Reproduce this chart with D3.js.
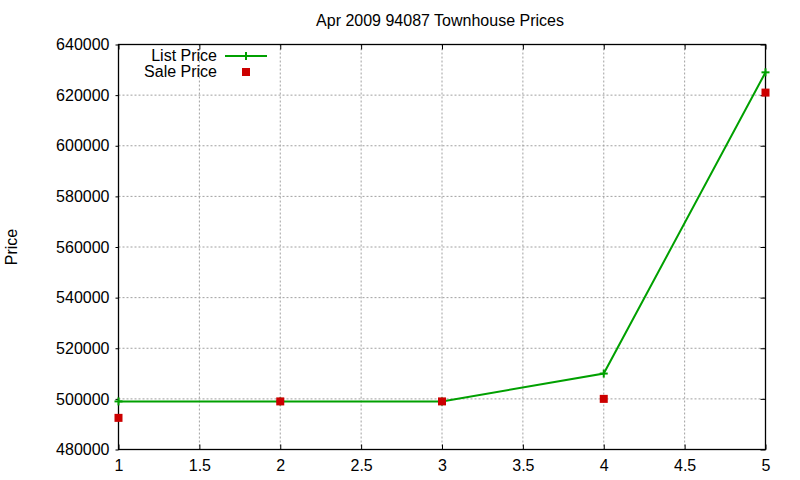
<!DOCTYPE html>
<html><head><meta charset="utf-8">
<script src="https://cdn.jsdelivr.net/npm/d3@7"></script>
<style>body{margin:0;background:#fff}text{font-family:"Liberation Sans",Arial,sans-serif}</style>
</head><body><svg id="c" width="800" height="480"></svg>
<script>
const xValues = [1, 2, 3, 4, 5];
const listPrice = [499000, 499000, 499000, 510000, 629000];
const salePrice = [492500, 499000, 499000, 500000, 621000];
const xTicks = [1, 1.5, 2, 2.5, 3, 3.5, 4, 4.5, 5];
const yTicks = [480000, 500000, 520000, 540000, 560000, 580000, 600000, 620000, 640000];
const title = "Apr 2009 94087 Townhouse Prices";
const yLabel = "Price";
const seriesNames = ["List Price", "Sale Price"];

(function () {
const svg = d3.select("#c");
const L = 118.5, R = 765.5, T = 44.5, B = 449.5;
const x = d3.scaleLinear().domain([1, 5]).range([L, R]);
const y = d3.scaleLinear().domain([480000, 640000]).range([B, T]);
const green = "#00a000", red = "#cc0000";

const g = svg.append("g");
g.selectAll(".vg").data(xTicks.slice(1, -1)).join("line")
  .attr("x1", d => x(d)).attr("x2", d => x(d)).attr("y1", T).attr("y2", B)
  .attr("stroke", "#a0a0a0").attr("stroke-width", 1).attr("stroke-dasharray", "2,2");
g.selectAll(".hg").data(yTicks.slice(1, -1)).join("line")
  .attr("y1", d => y(d)).attr("y2", d => y(d)).attr("x1", L).attr("x2", R)
  .attr("stroke", "#a0a0a0").attr("stroke-width", 1).attr("stroke-dasharray", "2,2");

const fmt = d => String(d);
const axB = svg.append("g").attr("transform", `translate(0,${B})`)
  .call(d3.axisBottom(x).tickValues(xTicks).tickFormat(fmt).tickSize(-5).tickPadding(10));
const axT = svg.append("g").attr("transform", `translate(0,${T})`)
  .call(d3.axisTop(x).tickValues(xTicks).tickFormat("").tickSize(-5));
const axL = svg.append("g").attr("transform", `translate(${L},0)`)
  .call(d3.axisLeft(y).tickValues(yTicks).tickFormat(fmt).tickSize(3).tickPadding(6));
const axR = svg.append("g").attr("transform", `translate(${R},0)`)
  .call(d3.axisRight(y).tickValues(yTicks).tickFormat("").tickSize(-5));
[axB, axT, axL, axR].forEach(a => {
  a.select(".domain").remove();
  a.selectAll("line").attr("stroke", "#000");
  a.selectAll("text").attr("fill", "#000").style("font-size", "16px")
   .style("font-family", '"Liberation Sans",Arial,sans-serif');
});
axB.selectAll("text").attr("dy", "0.71em");
svg.append("rect").attr("x", L).attr("y", T).attr("width", R - L).attr("height", B - T)
  .attr("fill", "none").attr("stroke", "#000").attr("stroke-width", 1.3);

svg.append("text").attr("x", 440).attr("y", 26).attr("text-anchor", "middle")
  .style("font-size", "16px").text(title);
svg.append("text").attr("transform", "translate(17,247) rotate(-90)").attr("text-anchor", "middle")
  .style("font-size", "16px").text(yLabel);

const line = d3.line().x((d, i) => x(xValues[i])).y(d => y(d));
svg.append("path").datum(listPrice).attr("d", line).attr("fill", "none")
  .attr("stroke", green).attr("stroke-width", 2);
const plus = (sel, cx, cy, s) => {
  sel.append("line").attr("x1", cx - s).attr("x2", cx + s).attr("y1", cy).attr("y2", cy)
    .attr("stroke", green).attr("stroke-width", 2);
  sel.append("line").attr("x1", cx).attr("x2", cx).attr("y1", cy - s).attr("y2", cy + s)
    .attr("stroke", green).attr("stroke-width", 2);
};
listPrice.forEach((v, i) => plus(svg, x(xValues[i]), y(v), 4));

svg.selectAll(".sq").data(salePrice).join("rect")
  .attr("x", (d, i) => x(xValues[i]) - 4).attr("y", d => y(d) - 4)
  .attr("width", 8).attr("height", 8).attr("fill", red);

svg.append("text").attr("x", 217).attr("y", 61).attr("text-anchor", "end")
  .style("font-size", "16px").text(seriesNames[0]);
svg.append("line").attr("x1", 225).attr("x2", 267).attr("y1", 56).attr("y2", 56)
  .attr("stroke", green).attr("stroke-width", 2);
plus(svg, 246, 56, 4);
svg.append("text").attr("x", 217).attr("y", 77).attr("text-anchor", "end")
  .style("font-size", "16px").text(seriesNames[1]);
svg.append("rect").attr("x", 242).attr("y", 68).attr("width", 8).attr("height", 8).attr("fill", red);
})();
</script></body></html>
